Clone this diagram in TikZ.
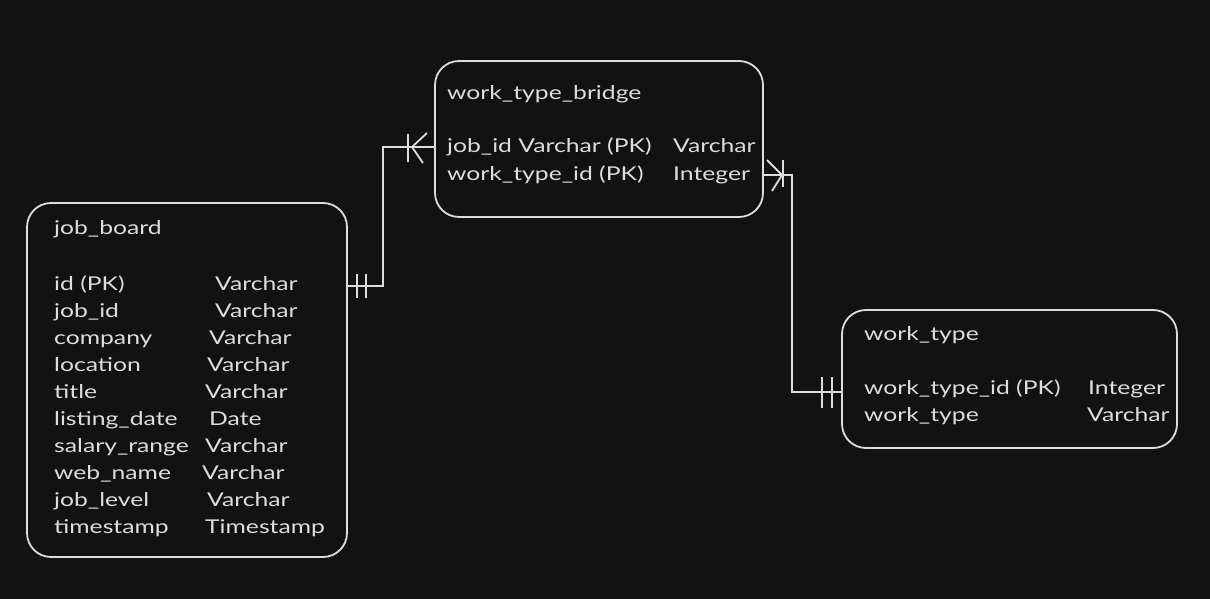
\documentclass[tikz,border=0pt]{standalone}
\usepackage{fontspec}
\setmainfont{Lato}[FakeStretch=1.3]
\definecolor{bg}{HTML}{121212}
\definecolor{ink}{HTML}{DDDDDD}
\begin{document}
\begin{tikzpicture}[x=1pt,y=-1pt,
  tbl/.style={draw=ink,line width=1.8pt,rounded corners=24pt},
  lnk/.style={draw=ink,line width=1.8pt},
  endmark/.style={draw=ink,line width=1.8pt},
  txt/.style={text=ink,anchor=base west,inner sep=0pt,font=\fontsize{19}{21}\selectfont}]
\fill[bg] (0,0) rectangle (1210,599);
\useasboundingbox (0,0) rectangle (1210,599);
% tables
\draw[tbl] (27,203) rectangle (347,557);
\draw[tbl] (435,61) rectangle (763,217);
\draw[tbl] (842,310) rectangle (1177,448);
% job_board
\node[txt] (jb) at (54,234) {job\_board};
\foreach \n/\t/\tx [count=\i from 0] in {id (PK)/Varchar/215, job\_id/Varchar/215, company/Varchar/209, location/Varchar/207, title/Varchar/205, listing\_date/Date/209, salary\_range/Varchar/205, web\_name/Varchar/202, job\_level/Varchar/207, timestamp/Timestamp/205}{
  \node[txt] (jbn\i) at (54,{290+27.1*\i}) {\n};
  \node[txt] (jbt\i) at (\tx,{290+27.1*\i}) {\t};
}
% work_type_bridge
\node[txt] (wb) at (447,100) {work\_type\_bridge};
\node[txt] (wb1) at (447,153) {job\_id Varchar (PK)};
\node[txt] (wb1t) at (673,153) {Varchar};
\node[txt] (wb2) at (447,180) {work\_type\_id (PK)};
\node[txt] (wb2t) at (673,180) {Integer};
% work_type
\node[txt] (wt) at (864,340) {work\_type};
\node[txt] (wt1) at (864,394) {work\_type\_id (PK)};
\node[txt] (wt1t) at (1088,394) {Integer};
\node[txt] (wt2) at (864,421) {work\_type};
\node[txt] (wt2t) at (1087,421) {Varchar};
% connector coordinates
\coordinate (a0) at (347,286);
\coordinate (a1) at (435,147);
\coordinate (b0) at (763,175);
\coordinate (b1) at (842,392);
\draw[lnk] (a0) -- (383,286) -- (383,147) -- (a1);
\draw[lnk] (b0) -- (792,175) -- (792,392) -- (b1);
% one-and-only-one marks
\draw[endmark] (357,274) -- (357,298) (366,274) -- (366,298);
\draw[endmark] (822,377) -- (822,408) (832,377) -- (832,408);
% crow's feet
\draw[endmark] (408,134) -- (408,162);
\draw[endmark] (427,133) -- (412,147) -- (423,163);
\draw[endmark] (783,160) -- (783,187);
\draw[endmark] (767,160) -- (782,175) -- (772,191);
\end{tikzpicture}
\end{document}
